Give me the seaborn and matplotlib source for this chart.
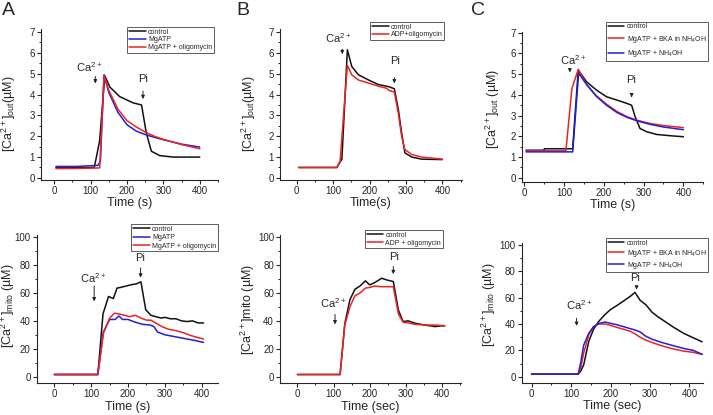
import matplotlib
matplotlib.use("Agg")
import matplotlib.pyplot as plt
from matplotlib.ticker import MultipleLocator
import seaborn as sns

# ---- panel A, top: [Ca2+]out
a_t_ctrl = [5, 110, 116, 125, 139, 153, 180, 217, 240, 253, 267, 290, 327, 400]
a_ctrl = [0.5, 0.5, 1.0, 1.8, 4.9, 4.36, 3.9, 3.6, 3.5, 2.16, 1.28, 1.07, 1.0, 1.0]
a_t_mg = [5, 60, 120, 127, 137, 150, 175, 200, 225, 250, 275, 300, 350, 400]
a_mg = [0.55, 0.55, 0.6, 0.8, 4.95, 4.1, 3.15, 2.55, 2.25, 2.08, 1.95, 1.83, 1.62, 1.48]
a_t_olig = [5, 60, 125, 137, 150, 175, 200, 225, 250, 275, 300, 350, 400]
a_olig = [0.45, 0.45, 0.48, 4.9, 4.2, 3.3, 2.75, 2.45, 2.2, 2.0, 1.85, 1.6, 1.4]

# ---- panel B, top
b_t_ctrl = [5, 110, 124, 139, 151, 169, 197, 224, 252, 268, 279, 288, 297, 316, 343, 400]
b_ctrl = [0.5, 0.5, 0.9, 6.15, 5.35, 4.95, 4.7, 4.48, 4.38, 4.28, 3.28, 2.16, 1.2, 1.0, 0.9, 0.88]
b_t_adp = [5, 110, 119, 139, 151, 169, 197, 224, 247, 253, 268, 279, 288, 297, 316, 343, 400]
b_adp = [0.5, 0.5, 0.8, 5.4, 4.95, 4.7, 4.55, 4.4, 4.3, 4.2, 4.12, 3.1, 2.0, 1.36, 1.12, 1.0, 0.9]

# ---- panel C, top
c_t_ctrl = [5, 50, 51, 122, 136, 157, 182, 207, 233, 258, 270, 279, 291, 308, 333, 366, 400]
c_ctrl = [1.33, 1.33, 1.4, 1.4, 5.2, 4.63, 4.23, 3.91, 3.75, 3.59, 3.5, 2.94, 2.38, 2.22, 2.09, 2.03, 1.98]
c_t_bka = [5, 105, 120, 136, 157, 182, 207, 233, 258, 283, 316, 350, 400]
c_bka = [1.3, 1.3, 4.3, 5.23, 4.5, 3.95, 3.55, 3.2, 2.95, 2.78, 2.62, 2.52, 2.42]
c_t_nh = [5, 122, 137, 157, 182, 207, 233, 258, 283, 316, 350, 400]
c_nh = [1.25, 1.25, 5.05, 4.5, 3.92, 3.5, 3.15, 2.92, 2.75, 2.58, 2.45, 2.32]

# ---- panel A, bottom: [Ca2+]mito
d_t_ctrl = [0, 118, 132, 147, 160, 170, 180, 195, 210, 222, 235, 248, 262, 275, 290, 300, 315, 330, 345, 360, 375, 390, 405]
d_ctrl = [1.5, 1.5, 45, 57.5, 56, 63.5, 64, 65, 66, 66.5, 68, 48, 44, 43, 42, 42.5, 41.5, 41.5, 40, 39.5, 40, 38.5, 38.5]
d_t_mg = [0, 118, 133, 150, 165, 175, 185, 200, 220, 240, 260, 270, 280, 300, 320, 340, 360, 380, 405]
d_mg = [1.5, 1.5, 32, 41, 41, 43.5, 41, 41, 39, 37.5, 37, 36, 32, 30, 29, 28, 27, 26, 24.5]
d_t_olig = [0, 118, 133, 150, 163, 175, 190, 205, 220, 235, 250, 262, 278, 295, 310, 330, 350, 370, 390, 405]
d_olig = [1.5, 1.5, 31, 42, 45.5, 45, 44, 43, 44, 42, 40.5, 40.5, 38, 35.5, 34, 33, 31.5, 29.5, 28, 27]

# ---- panel B, bottom
e_t_ctrl = [0, 118, 131, 145, 159, 173, 188, 200, 214, 233, 246, 265, 279, 292, 306, 325, 352, 380, 398, 407]
e_ctrl = [1.5, 1.5, 38, 55, 62.7, 65, 68.7, 65.8, 67.5, 70.6, 69.4, 68.2, 47.8, 39.5, 40, 38.3, 37, 35.9, 36.4, 36.4]
e_t_adp = [0, 118, 131, 145, 159, 173, 188, 200, 214, 230, 246, 265, 279, 292, 306, 325, 352, 380, 407]
e_adp = [1.5, 1.5, 37, 50, 58, 60, 63.5, 64, 65, 64.5, 64.5, 64.5, 45, 39, 38.5, 37.5, 37, 37, 36.5]

# ---- panel C, bottom
f_t_ctrl = [0, 118, 124, 132, 145, 157, 170, 187, 200, 216, 233, 250, 262, 275, 290, 305, 320, 340, 360, 385, 410, 432]
f_ctrl = [2, 2, 4, 9, 27, 36, 42, 47.5, 51, 54, 57.5, 61, 64, 58, 54.5, 49, 45.5, 41.5, 37.5, 33, 29.5, 26.5]
f_t_trt = [0, 118, 124, 132, 145, 157, 170, 187, 200, 216, 233, 250, 262, 275, 288, 305, 330, 360, 385, 410, 432]
f_bka = [2, 2, 6, 18, 32, 38, 40, 40, 39, 37.5, 36, 34.5, 32.5, 30, 28, 26, 23.5, 21, 19.5, 18.5, 17]
f_nh = [2, 2, 10, 24, 33, 38, 40.5, 41.5, 40.5, 39.5, 38, 36.5, 35.5, 34, 31, 28.5, 26, 23.5, 21.5, 20, 17]

BLACK = "#111111"
BLUE = "#2020d8"
RED = "#ee2222"

sns.set_style("ticks")
plt.rcParams["font.family"] = ["Liberation Sans", "DejaVu Sans"]
plt.rcParams["mathtext.fontset"] = "custom"
plt.rcParams["mathtext.rm"] = "Liberation Sans"
plt.rcParams["mathtext.default"] = "regular"

fig = plt.figure(figsize=(7.13, 4.15), dpi=100)
W, H = 713, 415


def add_ax(l, r, t, b):
    return fig.add_axes([l / W, 1 - b / H, (r - l) / W, (b - t) / H])


def style(ax, xlim, ylim, xlabel, ylabel, top_row, ylab_xy):
    ax.set_xlim(*xlim)
    ax.set_ylim(*ylim)
    ax.set_xticks([0, 100, 200, 300, 400])
    ax.xaxis.set_minor_locator(MultipleLocator(50))
    if top_row:
        ax.set_yticks(range(0, 8))
        ax.yaxis.set_minor_locator(MultipleLocator(0.5))
    else:
        ax.set_yticks(range(0, 101, 20))
        ax.yaxis.set_minor_locator(MultipleLocator(10))
    ax.tick_params(which="major", direction="out", length=2.8, width=0.8, labelsize=7, pad=1.5)
    ax.tick_params(which="minor", direction="out", length=1.6, width=0.7)
    ax.set_xlabel(xlabel, fontsize=9, labelpad=1)
    ax.set_ylabel(ylabel, fontsize=9)
    ax.yaxis.set_label_coords(*ylab_xy)
    for s in ("left", "bottom"):
        ax.spines[s].set_linewidth(0.8)
    sns.despine(ax=ax)


def mark(ax, label, tx, ty, ax_x, y0, y1, fs=8):
    ax.text(tx, ty, label, ha="center", va="center", fontsize=fs)
    ax.annotate("", xy=(ax_x, y1), xytext=(ax_x, y0),
                arrowprops=dict(arrowstyle="-|>", lw=0.7, color="#222222", mutation_scale=5))


def legend(ax, bx, by, spacing=0.1):
    lg = ax.legend(loc="upper right", bbox_to_anchor=(bx, by), borderaxespad=0,
                   fontsize=5, handlelength=2.4, handletextpad=0.3, labelspacing=spacing,
                   borderpad=0.25, frameon=True, fancybox=False)
    lg.get_frame().set_edgecolor("#333333")
    lg.get_frame().set_linewidth(0.7)


lw = 1.1
out_label = "[Ca$^{2+}$]$_{out}$(µM)"
ca = "Ca$^{2+}$"

# A top
ax = add_ax(40.7, 218, 29.3, 180)
sns.lineplot(x=a_t_ctrl, y=a_ctrl, ax=ax, color=BLACK, lw=lw, label="control")
sns.lineplot(x=a_t_mg, y=a_mg, ax=ax, color=BLUE, lw=lw, label="MgATP")
sns.lineplot(x=a_t_olig, y=a_olig, ax=ax, color=RED, lw=lw, label="MgATP + oligomycin")
style(ax, (-37, 450), (-0.1, 7.13), "Time (s)", out_label, True, (-0.128, 0.44))
mark(ax, ca, 96, 5.3, 113, 5.0, 4.4)
mark(ax, "Pi", 244, 4.75, 244, 4.3, 3.65)
legend(ax, 0.977, 1.015)

# B top
ax = add_ax(280, 461.7, 29.3, 180)
sns.lineplot(x=b_t_ctrl, y=b_ctrl, ax=ax, color=BLACK, lw=lw, label="control")
sns.lineplot(x=b_t_adp, y=b_adp, ax=ax, color=RED, lw=lw, label="ADP+oligomycin")
style(ax, (-46, 453), (-0.1, 7.13), "Time(s)", out_label, True, (-0.121, 0.44))
mark(ax, ca, 114, 6.7, 125, 6.3, 5.8)
mark(ax, "Pi", 270, 5.6, 268, 4.95, 4.4)
legend(ax, 0.904, 1.05)

# C top
ax = add_ax(521.7, 703.3, 31.7, 181.7)
sns.lineplot(x=c_t_ctrl, y=c_ctrl, ax=ax, color=BLACK, lw=lw, label="control")
sns.lineplot(x=c_t_bka, y=c_bka, ax=ax, color=RED, lw=lw, label="MgATP + BKA in NH$_4$OH")
sns.lineplot(x=c_t_nh, y=c_nh, ax=ax, color=BLUE, lw=lw, label="MgATP + NH$_4$OH")
style(ax, (-6, 450), (-0.19, 7.05), "Time (s)", "[Ca$^{2+}$]$_{out}$ (µM)", True, (-0.108, 0.485))
mark(ax, ca, 124, 5.68, 115, 5.36, 4.95)
mark(ax, "Pi", 268, 4.72, 270, 4.07, 3.75)
legend(ax, 1.026, 1.067, spacing=0.5)

# A bottom
ax = add_ax(36.7, 218.3, 235, 383.3)
sns.lineplot(x=d_t_ctrl, y=d_ctrl, ax=ax, color=BLACK, lw=lw, label="control")
sns.lineplot(x=d_t_mg, y=d_mg, ax=ax, color=BLUE, lw=lw, label="MgATP")
sns.lineplot(x=d_t_olig, y=d_olig, ax=ax, color=RED, lw=lw, label="MgATP + oligomycin")
style(ax, (-48, 445), (-4.8, 101.6), "Time (s)", "[Ca$^{2+}$]$_{mito}$ (µM)", False, (-0.108, 0.52))
mark(ax, ca, 106, 70.6, 108, 67, 52)
mark(ax, "Pi", 232, 85, 234, 80, 69)
legend(ax, 0.998, 1.074, spacing=0.2)

# B bottom
ax = add_ax(280, 461, 235, 383.3)
sns.lineplot(x=e_t_ctrl, y=e_ctrl, ax=ax, color=BLACK, lw=lw, label="control")
sns.lineplot(x=e_t_adp, y=e_adp, ax=ax, color=RED, lw=lw, label="ADP + oligomycin")
style(ax, (-48, 452), (-4.8, 101.6), "Time (sec)", "[Ca$^{2+}$]mito (µM)", False, (-0.127, 0.5))
mark(ax, ca, 99, 52.6, 104, 46.6, 35.5)
mark(ax, "Pi", 268, 85.6, 265, 81, 71.5)
legend(ax, 0.90, 1.034, spacing=0.15)

# C bottom
ax = add_ax(521.7, 703.3, 242.7, 382.7)
sns.lineplot(x=f_t_ctrl, y=f_ctrl, ax=ax, color=BLACK, lw=lw, label="control")
sns.lineplot(x=f_t_trt, y=f_bka, ax=ax, color=RED, lw=lw, label="MgATP + BKA in NH$_4$OH")
sns.lineplot(x=f_t_trt, y=f_nh, ax=ax, color=BLUE, lw=lw, label="MgATP + NH$_4$OH")
style(ax, (-25, 435), (-4.5, 101.7), "Time (sec)", "[Ca$^{2+}$]$_{mito}$ (µM)", False, (-0.13, 0.56))
mark(ax, ca, 120, 54, 114, 46.6, 36.5)
mark(ax, "Pi", 262, 75, 266, 70.5, 64)
legend(ax, 1.026, 1.034, spacing=0.15)

# panel letters
for x, s in [(2, "A"), (236, "B"), (471, "C")]:
    fig.text(x / W, 1 - 2 / H, s, fontsize=14, ha="left", va="top")

fig.savefig("out.png", dpi=100)
